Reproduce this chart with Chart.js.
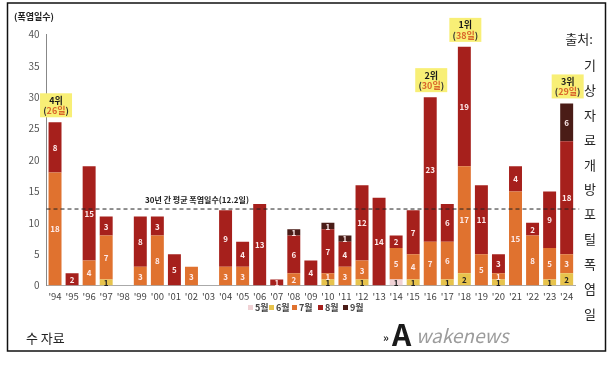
<!DOCTYPE html>
<html>
<head>
<meta charset="utf-8">
<script src="https://cdn.jsdelivr.net/npm/chart.js@4.4.1/dist/chart.umd.min.js"></script>
<style>
  html, body { margin: 0; padding: 0; background: #fff; }
  #wrap { position: relative; width: 616px; height: 365px; }
</style>
</head>
<body>
<div id="wrap"><canvas id="c" width="616" height="365"></canvas></div>
<script>
// ── Data ────────────────────────────────────────────────────────────────
const years = ["'94","'95","'96","'97","'98","'99","'00","'01","'02","'03","'04","'05","'06","'07","'08",
               "'09","'10","'11","'12","'13","'14","'15","'16","'17","'18","'19","'20","'21","'22","'23","'24"];
const may = [0,0,0,0,0,0,0,0,0,0,0,0,0,0,0,0,0,0,0,0,1,0,0,0,0,0,0,0,0,0,0];
const jun = [0,0,0,1,0,0,0,0,0,0,0,0,0,0,0,0,1,0,1,0,0,1,0,1,2,0,1,0,0,1,2];
const jul = [18,0,4,7,0,3,8,0,3,0,3,3,0,0,2,0,1,3,3,0,5,4,7,6,17,5,1,15,8,5,3];
const aug = [8,2,15,3,0,8,3,5,0,0,9,4,13,1,6,4,7,4,12,14,2,7,23,6,19,11,3,4,2,9,18];
const sep = [0,0,0,0,0,0,0,0,0,0,0,0,0,0,1,0,1,1,0,0,0,0,0,0,0,0,0,0,0,0,6];
const monthNames = ["5월","6월","7월","8월","9월"];
const yTicks = [0,5,10,15,20,25,30,35,40];
const avgDays = 12.2;
const avgLabel = "30년 간 평균 폭염일수(12.2일)";
const ranks = [ { idx: 0, rank: "4위", days: "26일" }, { idx: 22, rank: "2위", days: "30일" },
                { idx: 24, rank: "1위", days: "38일" }, { idx: 30, rank: "3위", days: "29일" } ];
const sourceHead = "출처:";
const sourceChars = ["기","상","자","료","개","방","포","털","폭","염","일"];
const sourceTail = "수 자료";

const colours   = ["#f0d2d5", "#e7c34c", "#e0722f", "#a6201c", "#4a1c17"];
const labelCols = ["#222", "#222", "#fdeaea", "#fdeaea", "#fdeaea"];
const FONT = "'Noto Sans CJK KR', 'Noto Sans', sans-serif";

const series = [may, jun, jul, aug, sep];

// ── Plugins ─────────────────────────────────────────────────────────────
const segLabels = {
  id: "segLabels",
  afterDatasetsDraw(chart) {
    const ctx = chart.ctx;
    ctx.save();
    ctx.font = `bold 8px ${FONT}`;
    ctx.textAlign = "center"; ctx.textBaseline = "middle";
    chart.data.datasets.forEach((ds, di) => {
      const meta = chart.getDatasetMeta(di);
      meta.data.forEach((bar, i) => {
        const v = ds.data[i];
        if (!v) return;
        ctx.fillStyle = labelCols[di];
        ctx.fillText(String(v), bar.x, (bar.y + bar.base) / 2 + 0.5);
      });
    });
    ctx.restore();
  }
};

const decor = {
  id: "decor",
  afterDraw(chart) {
    const ctx = chart.ctx;
    const xs = chart.scales.x, ys = chart.scales.y;
    const area = chart.chartArea;
    ctx.save();

    // frame
    ctx.strokeStyle = "#111"; ctx.lineWidth = 1.5;
    ctx.strokeRect(7.5, 3, 598, 348);

    // y title
    ctx.fillStyle = "#222"; ctx.font = `bold 9px ${FONT}`;
    ctx.textAlign = "left"; ctx.textBaseline = "middle";
    ctx.fillText("(폭염일수)", 14, 17);

    // average line
    const ay = ys.getPixelForValue(avgDays);
    ctx.strokeStyle = "#222"; ctx.lineWidth = 1; ctx.setLineDash([4, 3]);
    ctx.beginPath(); ctx.moveTo(area.left, ay); ctx.lineTo(area.right + 4, ay); ctx.stroke();
    ctx.setLineDash([]);
    ctx.font = `bold 8px ${FONT}`; ctx.textAlign = "center"; ctx.fillStyle = "#222";
    ctx.fillText(avgLabel, 197, ay - 9);

    // rank boxes
    ranks.forEach(r => {
      const total = series.reduce((s, a) => s + a[r.idx], 0);
      const cx = xs.getPixelForValue(r.idx) + 1;
      const top = ys.getPixelForValue(total);
      const w = 32, h = 24;
      const bx = cx - w / 2, by = top - 5 - h;
      ctx.fillStyle = "#f8ef76";
      ctx.fillRect(bx, by, w, h);
      ctx.textAlign = "center"; ctx.textBaseline = "middle";
      ctx.font = `bold 9px ${FONT}`; ctx.fillStyle = "#1a1a1a";
      ctx.fillText(r.rank, cx, by + 7);
      const p1 = "(", p2 = ")";
      const wA = ctx.measureText(p1).width, wB = ctx.measureText(r.days).width, wC = ctx.measureText(p2).width;
      const x0 = cx - (wA + wB + wC) / 2;
      ctx.textAlign = "left";
      ctx.fillStyle = "#333"; ctx.fillText(p1, x0, by + 17.5);
      ctx.fillStyle = "#d9662a"; ctx.fillText(r.days, x0 + wA, by + 17.5);
      ctx.fillStyle = "#333"; ctx.fillText(p2, x0 + wA + wB, by + 17.5);
    });

    // legend
    ctx.font = `bold 9px ${FONT}`; ctx.textBaseline = "middle"; ctx.textAlign = "left";
    const legX = [248, 269, 292, 318, 343];
    monthNames.forEach((m, i) => {
      ctx.fillStyle = colours[i];
      ctx.fillRect(legX[i], 305, 5, 5);
      ctx.fillStyle = "#444";
      ctx.fillText(m, legX[i] + 7, 308);
    });

    // source text
    ctx.fillStyle = "#222"; ctx.font = `13px ${FONT}`;
    ctx.textAlign = "center"; ctx.textBaseline = "middle";
    ctx.fillText(sourceHead, 579, 39);
    sourceChars.forEach((ch, i) => ctx.fillText(ch, 590, 65 + i * 24.9));
    ctx.textAlign = "left";
    ctx.fillText(sourceTail, 26, 338);

    // watermark
    ctx.font = `bold 11px ${FONT}`; ctx.fillStyle = "#222";
    ctx.fillText("»", 383, 338);
    ctx.font = `bold 30px ${FONT}`; ctx.fillStyle = "#1a1a1a";
    ctx.fillText("A", 392, 335);
    ctx.font = `italic 19px ${FONT}`; ctx.fillStyle = "rgba(130,130,130,0.8)";
    ctx.fillText("wakenews", 416, 336);

    ctx.restore();
  }
};

// ── Chart ───────────────────────────────────────────────────────────────
new Chart(document.getElementById("c").getContext("2d"), {
  type: "bar",
  data: {
    labels: years,
    datasets: series.map((arr, i) => ({
      label: monthNames[i],
      data: arr,
      backgroundColor: colours[i],
      borderWidth: 0,
      barPercentage: 0.76,
      categoryPercentage: 1
    }))
  },
  options: {
    responsive: false,
    animation: false,
    events: [],
    layout: { padding: { left: 8, right: 40.8, top: 34.3, bottom: 0 } },
    plugins: { legend: { display: false }, tooltip: { enabled: false } },
    scales: {
      x: {
        stacked: true,
        afterFit: s => { s.height = 79.3; },
        grid: { color: "transparent", drawTicks: false },
        border: { color: "#aaa", width: 1 },
        ticks: { color: "#444", font: { family: FONT, size: 9.5 }, padding: 5, maxRotation: 0, autoSkip: false }
      },
      y: {
        stacked: true,
        min: 0, max: 40,
        afterFit: s => { s.width = 38.5; },
        afterBuildTicks: s => { s.ticks = yTicks.map(v => ({ value: v })); },
        grid: { color: "transparent", drawTicks: false },
        border: { color: "#888", width: 1 },
        ticks: { color: "#555", font: { family: FONT, size: 10 }, padding: 7 }
      }
    }
  },
  plugins: [segLabels, decor]
});
</script>
</body>
</html>
